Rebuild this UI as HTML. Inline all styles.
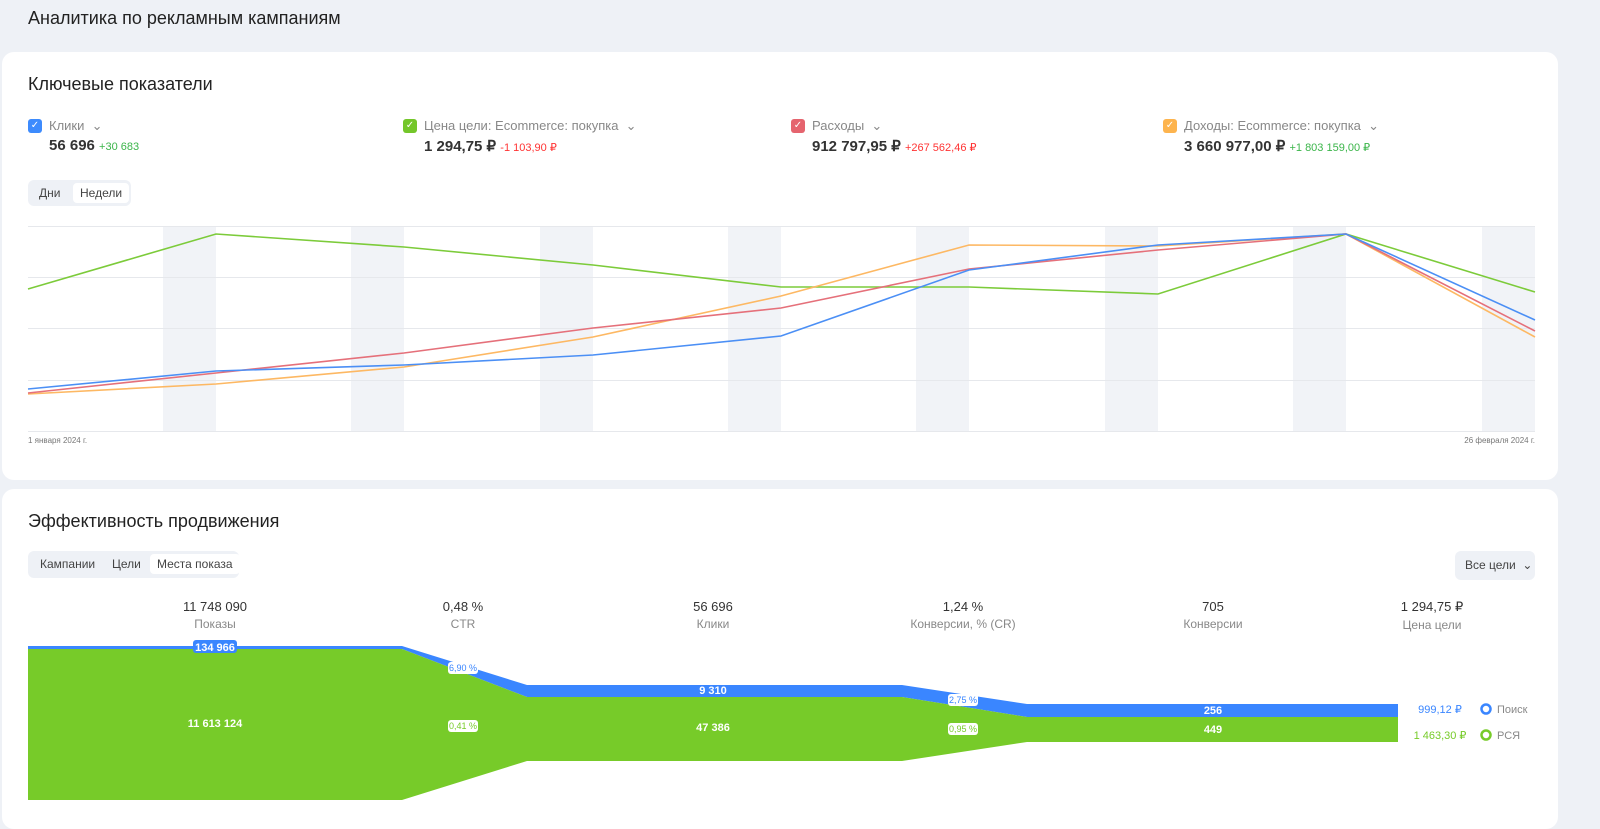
<!DOCTYPE html>
<html><head><meta charset="utf-8"><style>
*{margin:0;padding:0;box-sizing:border-box}
body{width:1600px;height:822px;background:#eef1f6;font-family:"Liberation Sans",sans-serif;color:#222;position:relative;overflow:hidden}
.abs{position:absolute}
.card{position:absolute;left:2px;width:1556px;background:#fff;border-radius:12px}
.h1{font-size:18px;color:#222}
.m{position:absolute;top:118px}
.m .cb{position:absolute;left:0;top:1px;width:14px;height:14px;border-radius:3px;color:#fff;font-size:10px;text-align:center;line-height:14px}
.m .lb{position:absolute;left:21px;top:0;font-size:13px;color:#888;white-space:nowrap}
.m .v{position:absolute;left:21px;top:19px;font-size:15px;font-weight:bold;white-space:nowrap;color:#333}
.m .v span{font-size:11px;font-weight:normal}
.seg{position:absolute;background:#eef1f6;border-radius:6px;font-size:12px;color:#444;white-space:nowrap}
.seg div{position:absolute;top:3px;height:20px;line-height:20px;padding:0 7px;border-radius:4px;white-space:nowrap}
.col{position:absolute;top:599px;text-align:center;width:200px}
.col b{display:block;font-size:13px;font-weight:normal;color:#333}
.col i{display:block;font-style:normal;font-size:12px;color:#888;margin-top:3px}
</style></head><body>
<div class="abs h1" style="left:28px;top:8px">Аналитика по рекламным кампаниям</div>
<div class="card" style="top:52px;height:428px"></div>
<div class="card" style="top:489px;height:340px"></div>
<div class="abs h1" style="left:28px;top:74px">Ключевые показатели</div>
<div class="m" style="left:28px"><div class="cb" style="background:#3d8bfd">✓</div><div class="lb">Клики &nbsp;⌄</div><div class="v">56 696 <span style="color:#3bb54a">+30 683</span></div></div>
<div class="m" style="left:403px"><div class="cb" style="background:#74c62a">✓</div><div class="lb">Цена цели: Ecommerce: покупка &nbsp;⌄</div><div class="v">1 294,75 ₽ <span style="color:#f33">-1 103,90 ₽</span></div></div>
<div class="m" style="left:791px"><div class="cb" style="background:#e5646e">✓</div><div class="lb">Расходы &nbsp;⌄</div><div class="v">912 797,95 ₽ <span style="color:#f33">+267 562,46 ₽</span></div></div>
<div class="m" style="left:1163px"><div class="cb" style="background:#fdb44e">✓</div><div class="lb">Доходы: Ecommerce: покупка &nbsp;⌄</div><div class="v">3 660 977,00 ₽ <span style="color:#3bb54a">+1 803 159,00 ₽</span></div></div>
<div class="seg" style="left:28px;top:180px;width:103px;height:26px"><div style="left:4px">Дни</div><div style="left:45px;background:#fff">Недели</div></div>
<svg class="abs" style="left:0;top:0" width="1600" height="822">
<g fill="#f1f3f7">
<rect x="163" y="226" width="53" height="206"/><rect x="351" y="226" width="53" height="206"/><rect x="540" y="226" width="53" height="206"/><rect x="728" y="226" width="53" height="206"/><rect x="916" y="226" width="53" height="206"/><rect x="1105" y="226" width="53" height="206"/><rect x="1293" y="226" width="53" height="206"/><rect x="1482" y="226" width="53" height="206"/></g>
<g stroke="#e6e8ec"><line x1="28" x2="1535" y1="226.5" y2="226.5"/><line x1="28" x2="1535" y1="277.5" y2="277.5"/><line x1="28" x2="1535" y1="328.5" y2="328.5"/><line x1="28" x2="1535" y1="380.5" y2="380.5"/><line x1="28" x2="1535" y1="431.5" y2="431.5"/></g>
<g fill="none" stroke-width="1.6">
<polyline stroke="#7ccb3a" points="28,289 216,234 404,247 593,265 781,287 969,287 1158,294 1346,234 1535,292"/>
<polyline stroke="#fdb863" points="28,394 216,384 404,367 593,337 781,296 969,245 1158,246 1346,234 1535,337"/>
<polyline stroke="#e5707a" points="28,393 216,373 404,353 593,328 781,308 969,269 1158,250 1346,234 1535,331"/>
<polyline stroke="#4b8ff5" points="28,389 216,371 404,365 593,355 781,336 969,270 1158,245 1346,234 1535,320"/>
</g>
<text x="28" y="443" font-size="8" fill="#777" font-family="Liberation Sans">1 января 2024 г.</text>
<text x="1535" y="443" font-size="8" fill="#777" text-anchor="end" font-family="Liberation Sans">26 февраля 2024 г.</text>
<polygon fill="#3a86ff" points="28,646 402,646 527,685 902,685 1027,704 1398,704 1398,717 1027,717 902,697 527,697 402,649 28,649"/>
<polygon fill="#77cb29" points="28,649 402,649 527,697 902,697 1027,717 1398,717 1398,742 1027,742 902,761 527,761 402,800 28,800"/>
<g font-family="Liberation Sans" font-size="11" text-anchor="middle" font-weight="bold">
<rect x="193" y="640" width="44" height="13" rx="3" fill="#3a86ff"/>
<text x="215" y="651" fill="#fff">134 966</text>
<text x="215" y="727" fill="#fff">11 613 124</text>
<text x="713" y="694" fill="#fff">9 310</text>
<text x="713" y="731" fill="#fff">47 386</text>
<text x="1213" y="714" fill="#fff">256</text>
<text x="1213" y="733" fill="#fff">449</text>
</g>
<g font-family="Liberation Sans" text-anchor="middle" font-size="9"><rect x="448" y="662" width="30" height="12" rx="3" fill="#fff"/><text x="463" y="671" fill="#3a86ff">6,90 %</text>
<rect x="448" y="720" width="30" height="12" rx="3" fill="#fff"/><text x="463" y="729" fill="#77cb29">0,41 %</text>
<rect x="948" y="694" width="30" height="12" rx="3" fill="#fff"/><text x="963" y="703" fill="#3a86ff">2,75 %</text>
<rect x="948" y="723" width="30" height="12" rx="3" fill="#fff"/><text x="963" y="732" fill="#77cb29">0,95 %</text></g>
<g font-family="Liberation Sans" text-anchor="middle" font-size="11">
<text x="1440" y="713" fill="#3a86ff">999,12 ₽</text>
<text x="1440" y="739" fill="#77cb29">1 463,30 ₽</text>
</g>
<circle cx="1486" cy="709" r="4.5" fill="none" stroke="#3a86ff" stroke-width="2.5"/>
<circle cx="1486" cy="735" r="4.5" fill="none" stroke="#77cb29" stroke-width="2.5"/>
<text x="1497" y="713" font-size="11" fill="#888" font-family="Liberation Sans">Поиск</text>
<text x="1497" y="739" font-size="11" fill="#888" font-family="Liberation Sans">РСЯ</text>
</svg>
<div class="abs h1" style="left:28px;top:511px">Эффективность продвижения</div>
<div class="seg" style="left:28px;top:551px;width:211px;height:27px"><div style="left:5px">Кампании</div><div style="left:77px">Цели</div><div style="left:122px;background:#fff">Места показа</div></div>
<div class="seg" style="left:1455px;top:551px;width:80px;height:29px;line-height:29px;padding-left:10px;font-size:12px">Все цели &nbsp;⌄</div>
<div class="col" style="left:115px"><b>11 748 090</b><i>Показы</i></div>
<div class="col" style="left:363px"><b>0,48 %</b><i>CTR</i></div>
<div class="col" style="left:613px"><b>56 696</b><i>Клики</i></div>
<div class="col" style="left:863px"><b>1,24 %</b><i>Конверсии, % (CR)</i></div>
<div class="col" style="left:1113px"><b>705</b><i>Конверсии</i></div>
<div class="col" style="left:1332px"><b>1 294,75 ₽</b><i>Цена цели</i></div>
</body></html>
